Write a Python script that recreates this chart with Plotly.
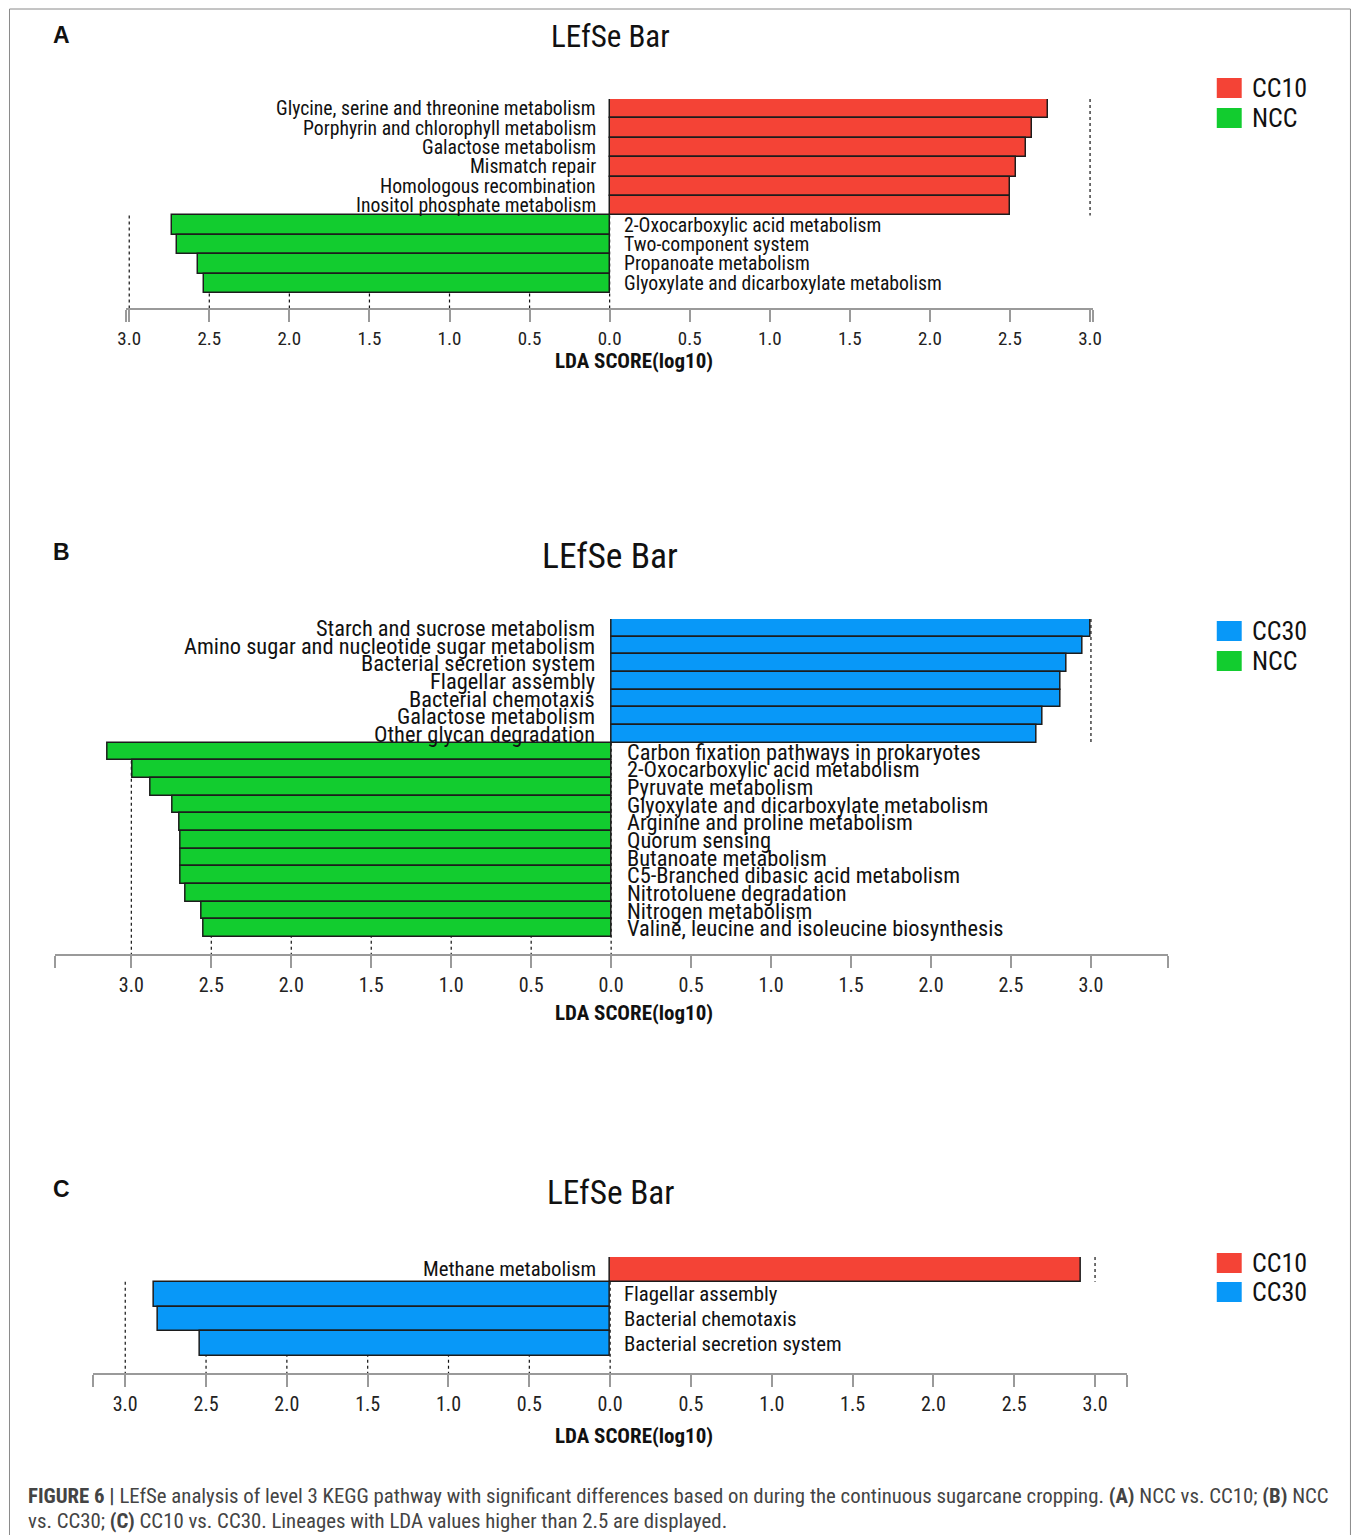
import plotly.graph_objects as go

W, H = 1360, 1535

# ---------------- data ----------------
# (A) NCC vs. CC10
a_cc10_names = ["Glycine, serine and threonine metabolism", "Porphyrin and chlorophyll metabolism",
                "Galactose metabolism", "Mismatch repair", "Homologous recombination",
                "Inositol phosphate metabolism"]
a_cc10_lda = [2.74, 2.64, 2.60, 2.54, 2.50, 2.50]
a_ncc_names = ["2-Oxocarboxylic acid metabolism", "Two-component system",
               "Propanoate metabolism", "Glyoxylate and dicarboxylate metabolism"]
a_ncc_lda = [2.73, 2.70, 2.57, 2.53]

# (B) NCC vs. CC30
b_cc30_names = ["Starch and sucrose metabolism", "Amino sugar and nucleotide sugar metabolism",
                "Bacterial secretion system", "Flagellar assembly", "Bacterial chemotaxis",
                "Galactose metabolism", "Other glycan degradation"]
b_cc30_lda = [3.00, 2.95, 2.85, 2.81, 2.81, 2.70, 2.66]
b_ncc_names = ["Carbon fixation pathways in prokaryotes", "2-Oxocarboxylic acid metabolism",
               "Pyruvate metabolism", "Glyoxylate and dicarboxylate metabolism",
               "Arginine and proline metabolism", "Quorum sensing", "Butanoate metabolism",
               "C5-Branched dibasic acid metabolism", "Nitrotoluene degradation",
               "Nitrogen metabolism", "Valine, leucine and isoleucine biosynthesis"]
b_ncc_lda = [3.15, 2.99, 2.88, 2.74, 2.70, 2.69, 2.69, 2.69, 2.66, 2.56, 2.55]

# (C) CC10 vs. CC30
c_cc10_names = ["Methane metabolism"]
c_cc10_lda = [2.91]
c_cc30_names = ["Flagellar assembly", "Bacterial chemotaxis", "Bacterial secretion system"]
c_cc30_lda = [2.82, 2.80, 2.54]

tick_values = [0.5, 1.0, 1.5, 2.0, 2.5, 3.0]

# ---------------- styling ----------------
RED = "#F44336"
GREEN = "#12CC2F"
BLUE = "#0898F8"
NARROW = "Liberation Sans Narrow, Arial Narrow, Roboto Condensed, sans-serif"
SANS = "Liberation Sans, Arial, sans-serif"
EDGE = "#1c1c1c"
AXIS = "#9a9a9a"

# horizontal placement helper: converts a page x position to paper units,
# allowing for the small horizontal inset of the rendered page
X_OFF, X_SCALE = 7.5, 0.989


def px(x):
    return ((x - X_OFF) / X_SCALE) / W


def py(y):
    return 1 - y / H


panels = [
    dict(letter="A", up=(a_cc10_names, a_cc10_lda, "CC10", RED), dn=(a_ncc_names, a_ncc_lda, "NCC", GREEN),
         zero=609.5, unit=160.5, xmax=3.02, top=99, row=19.4, axis=308,
         lab_font=19.7, gap=12, title_y=36, title_size=31, letter_y=35, xlabel_y=361,
         leg_y=(88, 118), tick_font=19),
    dict(letter="B", up=(b_cc30_names, b_cc30_lda, "CC30", BLUE), dn=(b_ncc_names, b_ncc_lda, "NCC", GREEN),
         zero=611, unit=160.3, xmax=3.48, top=619, row=17.67, axis=954,
         lab_font=22.4, gap=14, title_y=556, title_size=35.5, letter_y=552, xlabel_y=1013,
         leg_y=(631, 661), tick_font=20),
    dict(letter="C", up=(c_cc10_names, c_cc10_lda, "CC10", RED), dn=(c_cc30_names, c_cc30_lda, "CC30", BLUE),
         zero=610, unit=162, xmax=3.2, top=1257, row=24.75, axis=1373,
         lab_font=20.8, gap=12, title_y=1192, title_size=33.3, letter_y=1189, xlabel_y=1436,
         leg_y=(1263, 1292), tick_font=20),
]

fig = go.Figure()
layout = dict(width=W, height=H, margin=dict(l=0, r=0, t=0, b=0),
              paper_bgcolor="white", plot_bgcolor="white", showlegend=False,
              bargap=0, barmode="overlay")
annotations = []
shapes = []

for k, p in enumerate(panels):
    s = "" if k == 0 else str(k + 1)
    xa, ya = "x" + s, "y" + s
    up_names, up_lda, up_group, up_color = p["up"]
    dn_names, dn_lda, dn_group, dn_color = p["dn"]
    n_up, n_dn = len(up_names), len(dn_names)
    n = n_up + n_dn
    ys_up = list(range(n_up))
    ys_dn = list(range(n_up, n))

    bar_line = dict(color=EDGE, width=1.5)
    fig.add_trace(go.Bar(x=up_lda, y=ys_up, orientation="h", width=1, xaxis=xa, yaxis=ya,
                         marker=dict(color=up_color, line=bar_line), name=up_group))
    fig.add_trace(go.Bar(x=[-v for v in dn_lda], y=ys_dn, orientation="h", width=1, xaxis=xa, yaxis=ya,
                         marker=dict(color=dn_color, line=bar_line), name=dn_group))

    pad = (p["axis"] - (p["top"] + n * p["row"])) / p["row"]
    xmax = p["xmax"]
    tvals = [-xmax] + [-t for t in reversed(tick_values)] + [0.0] + tick_values + [xmax]
    ttext = [""] + [f"{t:.1f}" for t in reversed(tick_values)] + ["0.0"] + [f"{t:.1f}" for t in tick_values] + [""]

    layout["xaxis" + s] = dict(
        domain=[px(p["zero"] - xmax * p["unit"]), px(p["zero"] + xmax * p["unit"])],
        range=[-xmax, xmax], anchor=ya, showgrid=False, zeroline=False,
        showline=True, linecolor=AXIS, linewidth=2,
        ticks="outside", ticklen=12, tickwidth=2, tickcolor=AXIS,
        tickvals=tvals, ticktext=ttext, ticklabelstandoff=0,
        tickfont=dict(family=NARROW, size=p["tick_font"], color="#222"), fixedrange=True)
    layout["yaxis" + s] = dict(
        domain=[py(p["axis"]), py(p["top"])], range=[n - 0.5 + pad, -0.5], anchor=xa,
        visible=False, showgrid=False, zeroline=False, fixedrange=True)

    # dotted guide lines
    for t in [3.0, 2.5, 2.0, 1.5, 1.0, 0.5, 0.0]:
        shapes.append(dict(type="line", xref=xa, yref=ya, x0=-t, x1=-t,
                           y0=n_up - 0.5, y1=n - 0.5 + pad, layer="below",
                           line=dict(color="#111", width=1.2, dash="dot")))
    shapes.append(dict(type="line", xref=xa, yref=ya, x0=3.0, x1=3.0, y0=-0.5, y1=n_up - 0.5,
                       layer="below", line=dict(color="#111", width=1.2, dash="dot")))

    # pathway labels
    for name, yv in zip(up_names, ys_up):
        annotations.append(dict(x=0, y=yv, xref=xa, yref=ya, text=name, showarrow=False,
                                xanchor="right", yanchor="middle", xshift=-p["gap"],
                                font=dict(family=NARROW, size=p["lab_font"], color="#111")))
    for name, yv in zip(dn_names, ys_dn):
        annotations.append(dict(x=0, y=yv, xref=xa, yref=ya, text=name, showarrow=False,
                                xanchor="left", yanchor="middle", xshift=p["gap"],
                                font=dict(family=NARROW, size=p["lab_font"], color="#111")))

    # title, panel letter, axis label
    annotations.append(dict(x=px(610), y=py(p["title_y"]), xref="paper", yref="paper",
                            text="LEfSe Bar", showarrow=False, xanchor="center", yanchor="middle",
                            font=dict(family=NARROW, size=p["title_size"], color="#111")))
    annotations.append(dict(x=px(60), y=py(p["letter_y"]), xref="paper", yref="paper",
                            text="<b>" + p["letter"] + "</b>", showarrow=False, xanchor="center",
                            yanchor="middle", font=dict(family=SANS, size=23, color="#111")))
    annotations.append(dict(x=px(634), y=py(p["xlabel_y"]), xref="paper", yref="paper",
                            text="<b>LDA SCORE(log10)</b>", showarrow=False, xanchor="center",
                            yanchor="middle", font=dict(family=NARROW, size=21, color="#111")))

    # group key
    for (grp, col), yc in zip([(up_group, up_color), (dn_group, dn_color)], p["leg_y"]):
        shapes.append(dict(type="rect", xref="paper", yref="paper",
                           x0=px(1218), x1=px(1243), y0=py(yc - 10), y1=py(yc + 10),
                           fillcolor=col, line=dict(width=0)))
        annotations.append(dict(x=px(1251), y=py(yc), xref="paper", yref="paper", text=grp,
                                showarrow=False, xanchor="left", yanchor="middle",
                                font=dict(family=NARROW, size=26, color="#111")))

# caption
cap1 = ("<b>FIGURE 6 |</b> LEfSe analysis of level 3 KEGG pathway with significant differences based on "
        "during the continuous sugarcane cropping. <b>(A)</b> NCC vs. CC10; <b>(B)</b> NCC")
cap2 = "vs. CC30; <b>(C)</b> CC10 vs. CC30. Lineages with LDA values higher than 2.5 are displayed."
for txt, yc in [(cap1, 1496), (cap2, 1521)]:
    annotations.append(dict(x=px(25), y=py(yc), xref="paper", yref="paper", text=txt,
                            showarrow=False, xanchor="left", yanchor="middle",
                            font=dict(family=NARROW, size=20.8, color="#444")))

# frame
for x0, y0, x1, y1 in [(8, 9, 1352, 9), (8, 9, 8, 1535), (1352, 9, 1352, 1535)]:
    shapes.append(dict(type="line", xref="paper", yref="paper", x0=px(x0), x1=px(x1),
                       y0=py(y0), y1=py(y1), line=dict(color="#8a8a8a", width=1)))

layout["annotations"] = annotations
layout["shapes"] = shapes
fig.update_layout(**layout)
fig.write_html("out.html")
